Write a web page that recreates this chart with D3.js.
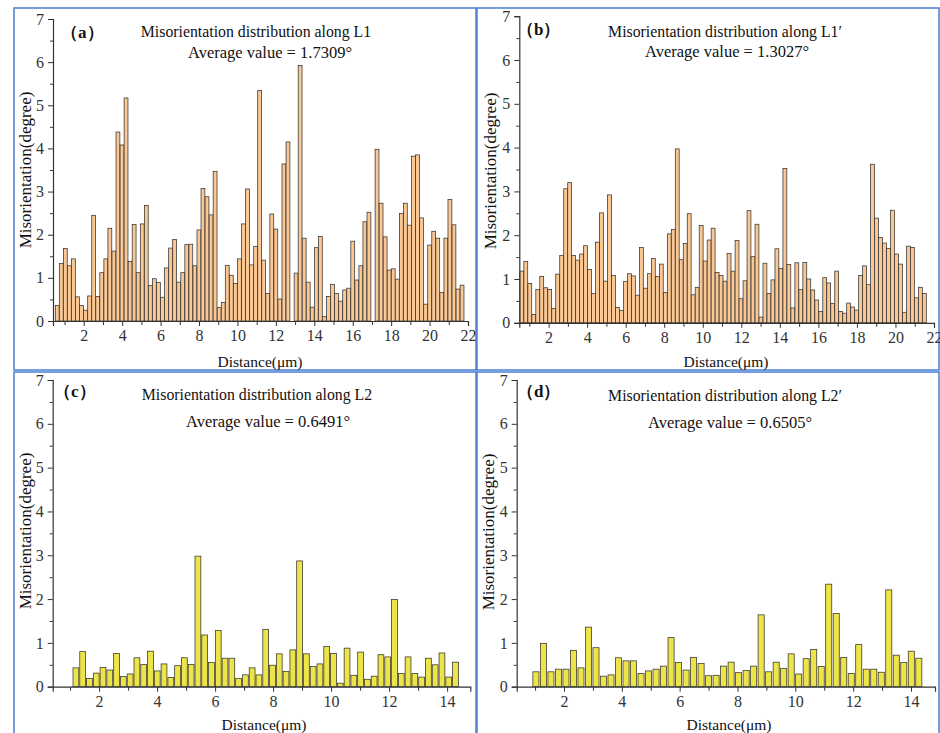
<!DOCTYPE html>
<html>
<head>
<meta charset="utf-8">
<script src="https://cdn.jsdelivr.net/npm/d3@7"></script>
<style>
  body { margin: 0; background: #fff; }
  text { font-family: "Liberation Serif", "Times New Roman", serif; }
</style>
</head>
<body>
<div id="chart"></div>
<script>
// misorientation values (degrees)
const valuesA = [0.36, 1.33, 1.68, 1.28, 1.44, 0.56, 0.36, 0.25, 0.58, 2.45,
  0.57, 1.12, 1.44, 2.15, 1.62, 4.38, 4.08, 5.17, 1.38, 2.24,
  1.12, 2.25, 2.68, 0.82, 0.98, 0.89, 0.55, 1.23, 1.69, 1.89,
  0.90, 1.12, 1.77, 1.78, 1.28, 2.11, 3.07, 2.88, 2.46, 3.47,
  0.31, 0.43, 1.29, 1.06, 0.87, 1.44, 2.25, 3.06, 1.30, 1.73,
  5.34, 1.41, 0.64, 2.48, 2.13, 0.51, 3.64, 4.15, 0, 1.11,
  5.92, 1.92, 0.90, 0.32, 1.70, 1.96, 0.10, 0.57, 0.85, 0.64,
  0.46, 0.72, 0.76, 1.85, 0.95, 1.28, 2.30, 2.52, 0, 3.98,
  2.73, 1.95, 1.18, 1.21, 0.97, 2.49, 2.73, 2.22, 3.82, 3.85,
  2.39, 0.39, 1.76, 2.08, 1.92, 0.66, 1.92, 2.82, 2.23, 0.74, 0.83];

const valuesB = [1.18, 1.40, 0.90, 0.19, 0.76, 1.06, 0.80, 0.76, 0.33, 1.11,
  1.54, 3.06, 3.20, 1.54, 1.43, 1.57, 1.76, 1.22, 0.67, 1.84,
  2.51, 0.95, 2.92, 1.08, 0.35, 0.28, 0.94, 1.12, 1.07, 0.63,
  1.72, 0.79, 1.12, 1.47, 1.06, 1.34, 0.69, 2.03, 2.13, 3.97,
  1.44, 1.81, 2.49, 0.64, 0.81, 2.22, 1.41, 1.89, 2.16, 1.15,
  1.08, 0.95, 1.58, 1.18, 1.88, 0.55, 0.96, 2.56, 1.51, 2.25,
  0.13, 1.36, 0.67, 0.98, 1.69, 1.24, 3.52, 1.33, 0.34, 1.37,
  0.76, 1.38, 1.00, 0.75, 0.52, 0.26, 1.03, 0.91, 0.44, 1.18,
  0.26, 0.22, 0.45, 0.36, 0.29, 1.08, 1.30, 0.87, 3.62, 2.39,
  1.95, 1.82, 1.70, 2.57, 1.57, 1.34, 0.24, 1.75, 1.72, 0.57, 0.81, 0.67];

const valuesC = [0.43, 0.80, 0.19, 0.31, 0.44, 0.38, 0.76, 0.23, 0.29, 0.66,
  0.51, 0.81, 0.36, 0.52, 0.21, 0.48, 0.66, 0.51, 2.98, 1.18,
  0.55, 1.28, 0.65, 0.65, 0.19, 0.27, 0.43, 0.27, 1.31, 0.49,
  0.75, 0.35, 0.84, 2.87, 0.75, 0.46, 0.52, 0.92, 0.76, 0.08,
  0.88, 0.26, 0.79, 0.17, 0.24, 0.73, 0.68, 1.99, 0.30, 0.68,
  0.30, 0.22, 0.65, 0.50, 0.77, 0.22, 0.56];

const valuesD = [0.34, 0.99, 0.34, 0.40, 0.40, 0.83, 0.43, 1.36, 0.89, 0.24,
  0.27, 0.66, 0.59, 0.59, 0.30, 0.36, 0.40, 0.47, 1.12, 0.55,
  0.38, 0.67, 0.53, 0.25, 0.26, 0.47, 0.56, 0.32, 0.37, 0.47,
  1.64, 0.34, 0.56, 0.42, 0.75, 0.29, 0.64, 0.85, 0.46, 2.34,
  1.67, 0.67, 0.30, 0.96, 0.40, 0.40, 0.33, 2.21, 0.72, 0.55, 0.81, 0.65];

// first and last sampling distance (µm) of each line scan
const spanA = [0.62, 21.69];
const spanB = [0.61, 21.50];
const spanC = [1.20, 14.29];
const spanD = [1.03, 14.27];

const panelLabels = ["（a）", "（b）", "（c）", "（d）"];
const titles = [
  "Misorientation distribution along L1",
  "Misorientation distribution along L1\u2032",
  "Misorientation distribution along L2",
  "Misorientation distribution along L2\u2032"
];
const averages = ["1.7309", "1.3027", "0.6491", "0.6505"];
const xTicksLong = [2, 4, 6, 8, 10, 12, 14, 16, 18, 20, 22];
const xTicksShort = [2, 4, 6, 8, 10, 12, 14];
const yTicks = [0, 1, 2, 3, 4, 5, 6, 7];

const width = 940, height = 733;
const svg = d3.select("#chart").append("svg")
  .attr("width", width).attr("height", height);

const orange = "#fbc894", yellow = "#ede547";
const serif = "'Liberation Serif', 'Times New Roman', serif";

const panels = [
  { values: valuesA, span: spanA, xd: [0.4, 22], xr: [53, 468], yr: [321, 19], bw: 0.2, fill: orange, xt: xTicksLong,
    frame: [14, 8, 462, 362], lab: [61, 38], tt: [256, 37], av: [270, 58], yl: [31, 170], xl: [260, 367] },
  { values: valuesB, span: spanB, xd: [0.48, 22], xr: [519.3, 934], yr: [322.8, 16.2], bw: 0.2, fill: orange, xt: xTicksLong,
    frame: [477, 8, 462, 362], lab: [517, 35], tt: [725, 37], av: [727, 57], yl: [496, 171], xl: [726, 367] },
  { values: valuesC, span: spanC, xd: [0.4, 14.8], xr: [52.7, 470.3], yr: [686.7, 380], bw: 0.2, fill: yellow, xt: xTicksShort,
    frame: [14, 372, 462, 362], lab: [54, 397], tt: [257, 400], av: [268, 427], yl: [31, 531], xl: [264, 730] },
  { values: valuesD, span: spanD, xd: [0.365, 14.83], xr: [516.7, 935], yr: [686.7, 380], bw: 0.21, fill: yellow, xt: xTicksShort,
    frame: [477, 372, 462, 362], lab: [517, 397], tt: [725, 401], av: [730, 428], yl: [494, 532], xl: [729, 730] }
];

panels.forEach((p, k) => {
  const g = svg.append("g");

  g.append("rect")
    .attr("x", p.frame[0]).attr("y", p.frame[1])
    .attr("width", p.frame[2]).attr("height", p.frame[3])
    .attr("fill", "none").attr("stroke", "#4a7fd4").attr("stroke-width", 1.5);

  const x = d3.scaleLinear().domain(p.xd).range(p.xr);
  const y = d3.scaleLinear().domain([0, 7]).range(p.yr);
  const n = p.values.length;
  const step = (p.span[1] - p.span[0]) / (n - 1);
  const bwPx = x(p.bw) - x(0);

  g.selectAll("rect.bar")
    .data(p.values)
    .join("rect")
    .attr("class", "bar")
    .attr("x", (d, i) => x(p.span[0] + i * step) - bwPx / 2)
    .attr("width", bwPx)
    .attr("y", d => y(d))
    .attr("height", d => y(0) - y(d))
    .attr("fill", p.fill)
    .attr("stroke", "#333")
    .attr("stroke-width", 0.75)
    .attr("visibility", d => d > 0 ? null : "hidden");

  // y axis with half-degree minor ticks
  const yAxis = g.append("g").attr("transform", `translate(${p.xr[0]},0)`)
    .call(d3.axisLeft(y).tickValues(yTicks).tickSize(5).tickPadding(4).tickFormat(d3.format("d")));
  g.append("g").attr("transform", `translate(${p.xr[0]},0)`)
    .call(d3.axisLeft(y).tickValues(d3.range(0.5, 7, 1)).tickSize(3).tickFormat(""))
    .select(".domain").remove();

  const xAxis = g.append("g").attr("transform", `translate(0,${p.yr[0]})`)
    .call(d3.axisBottom(x).tickValues(p.xt).tickSize(5).tickPadding(4).tickFormat(d3.format("d")));
  g.append("g").attr("transform", `translate(0,${p.yr[0]})`)
    .call(d3.axisBottom(x).tickValues(p.xt.map(t => t - 1)).tickSize(4).tickFormat(""))
    .select(".domain").remove();

  [yAxis, xAxis].forEach(a => {
    a.select(".domain").attr("stroke", "#333").attr("stroke-width", 1.2);
    a.selectAll("text").attr("font-size", 16).attr("fill", "#333")
      .attr("font-family", serif);
  });
  g.selectAll(".tick line").attr("stroke", "#333");

  g.append("text").attr("x", p.lab[0]).attr("y", p.lab[1])
    .attr("font-size", 17).attr("font-weight", "bold").attr("fill", "#111")
    .text(panelLabels[k]);

  g.append("text").attr("x", p.tt[0]).attr("y", p.tt[1])
    .attr("text-anchor", "middle").attr("font-size", 15.8).attr("fill", "#111")
    .text(titles[k]);

  g.append("text").attr("x", p.av[0]).attr("y", p.av[1])
    .attr("text-anchor", "middle").attr("font-size", 16.5).attr("fill", "#111")
    .text("Average value = " + averages[k] + "°");

  g.append("text")
    .attr("transform", `translate(${p.yl[0]},${p.yl[1]}) rotate(-90)`)
    .attr("text-anchor", "middle").attr("font-size", 17).attr("fill", "#111")
    .text("Misorientation(degree)");

  g.append("text").attr("x", p.xl[0]).attr("y", p.xl[1])
    .attr("text-anchor", "middle").attr("font-size", 15.5).attr("fill", "#111")
    .text("Distance(μm)");
});
</script>
</body>
</html>
